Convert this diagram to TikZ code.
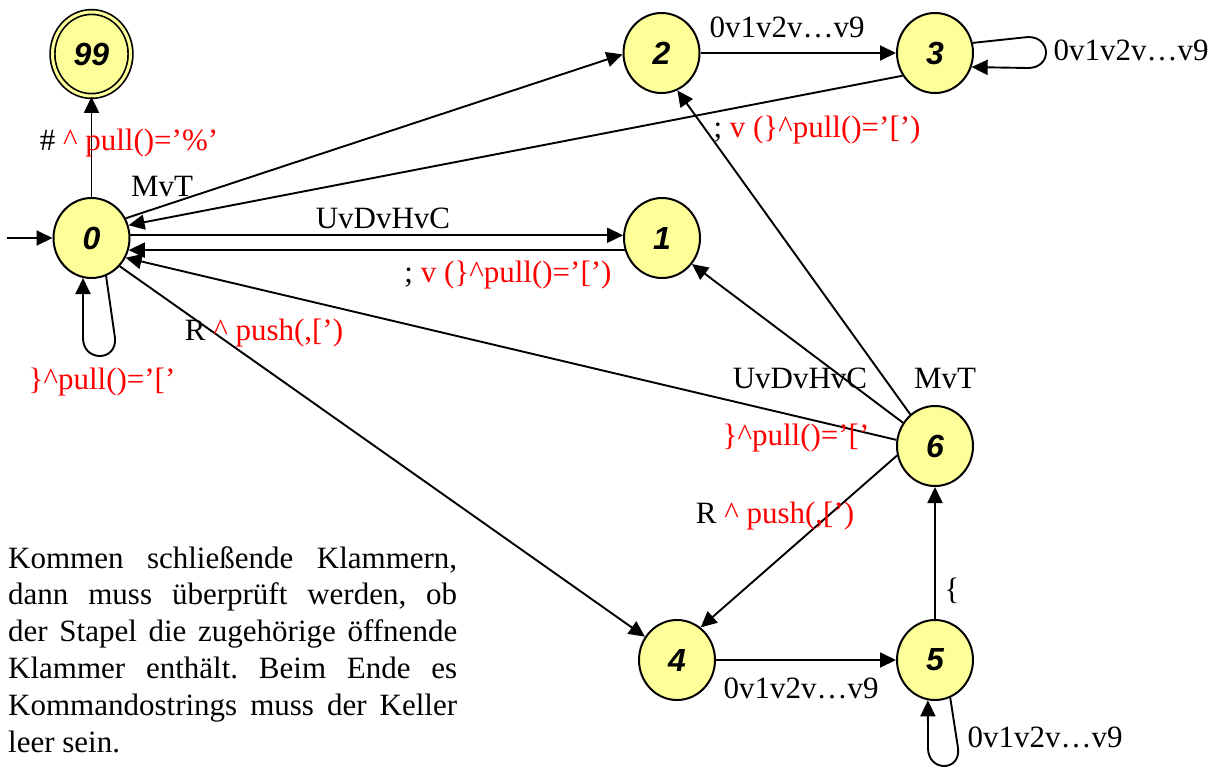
\documentclass[tikz,border=0pt]{standalone}
\usepackage{fontspec}
\setmainfont{Liberation Serif}
\newfontfamily\numfont{Liberation Sans}
\usetikzlibrary{arrows.meta,shapes.geometric}
\definecolor{nodefill}{HTML}{FFFF99}
\frenchspacing
\begin{document}
\begin{tikzpicture}[x=1pt,y=-1pt,
  state/.style={ellipse,draw,line width=2pt,fill=nodefill,minimum width=76pt,minimum height=80pt,inner sep=0pt,
    font=\numfont\bfseries\itshape\fontsize{32}{32}\selectfont},
  arr/.style={line width=1.9pt,-{Triangle[length=16pt,width=15pt]}},
  lbl/.style={font=\fontsize{31}{36}\selectfont,inner sep=0pt},
]
\useasboundingbox (0,0) rectangle (1227,769);

% states
\node[state,double=nodefill,double distance=3pt,line width=1.7pt,minimum width=78pt,minimum height=84pt] (n99) at (91.5,54) {99};
\node[state] (n0) at (91.5,238) {0};
\node[state] (n1) at (662,238) {1};
\node[state] (n2) at (661.5,53) {2};
\node[state] (n3) at (935,53) {3};
\node[state] (n6) at (935,446) {6};
\node[state] (n4) at (677,660) {4};
\node[state] (n5) at (935,660) {5};

\coordinate (start) at (7,238);

% connectors
\draw[arr] (start) -- (n0.west);
\draw[arr] (n0) -- (n99);
\draw[arr] (n0.30) -- (n2.182);
\draw[arr] (n3.215) -- (n0.19);
\draw[arr] (n0.4) -- (n1.176);
\draw[arr] (n1.198) -- (n0.-18);
\draw[arr] (n6.171) -- (n0.-30);
\draw[arr] (n6.144) -- (n1.-41);
\draw[arr] (n6.128) -- (n2.-67);
\draw[arr] (n0.-45) -- (n4.144);
\draw[arr] (n6.194) -- (n4.54);
\draw[arr] (n4) -- (n5);
\draw[arr] (n5) -- (n6);
\draw[arr] (n2) -- (n3);
% loops
\draw[arr] (n3.15) -- (1028,37) .. controls (1052,37) and (1052,68) .. (1028,68) -- (n3.-21);
\draw[arr] (n0.-69) -- (115,338) .. controls (117,362) and (83,362) .. (83,338) -- (n0.-102);
\draw[arr] (n5.-68) -- (958,748) .. controls (961,772) and (928,772) .. (928,748) -- (n5.-100);

% labels
\node[lbl] (l099) at (129,143) {\# {\color{red}\textasciicircum\ pull()=’\%’}};
\node[lbl] (l02) at (162,186) {MvT};
\node[lbl] (l01) at (383,218) {UvDvHvC};
\node[lbl] (l10) at (508,275) {; {\color{red}v (\}\textasciicircum pull()=’[’)}};
\node[lbl] (l62) at (817,130) {; {\color{red}v (\}\textasciicircum pull()=’[’)}};
\node[lbl] (l23) at (787,27) {0v1v2v…v9};
\node[lbl] (l33) at (1131,50) {0v1v2v…v9};
\node[lbl] (l04) at (264,333) {R {\color{red}\textasciicircum\ push(,[’)}};
\node[lbl,text=red] (l00) at (102,382) {\}\textasciicircum pull()=’[’};
\node[lbl] (l61) at (800,378) {UvDvHvC};
\node[lbl] (l62b) at (945,378) {MvT};
\node[lbl,text=red] (l60) at (796,438) {\}\textasciicircum pull()=’[’};
\node[lbl] (l64) at (775,516) {R {\color{red}\textasciicircum\ push(,[’)}};
\node[lbl] (l56) at (952,591) {\{};
\node[lbl] (l45) at (801,688) {0v1v2v…v9};
\node[lbl] (l55) at (1045,737) {0v1v2v…v9};

\node[lbl,text width=449pt,align=justify,anchor=base west,font=\fontsize{31}{36.8}\selectfont] (para) at (8,568)
{Kommen schließende Klammern,\linebreak dann muss überprüft werden, ob\linebreak der Stapel die zugehörige öffnende\linebreak Klammer enthält. Beim Ende es\linebreak Kommandostrings muss der Keller\linebreak leer sein.};
\end{tikzpicture}
\end{document}
